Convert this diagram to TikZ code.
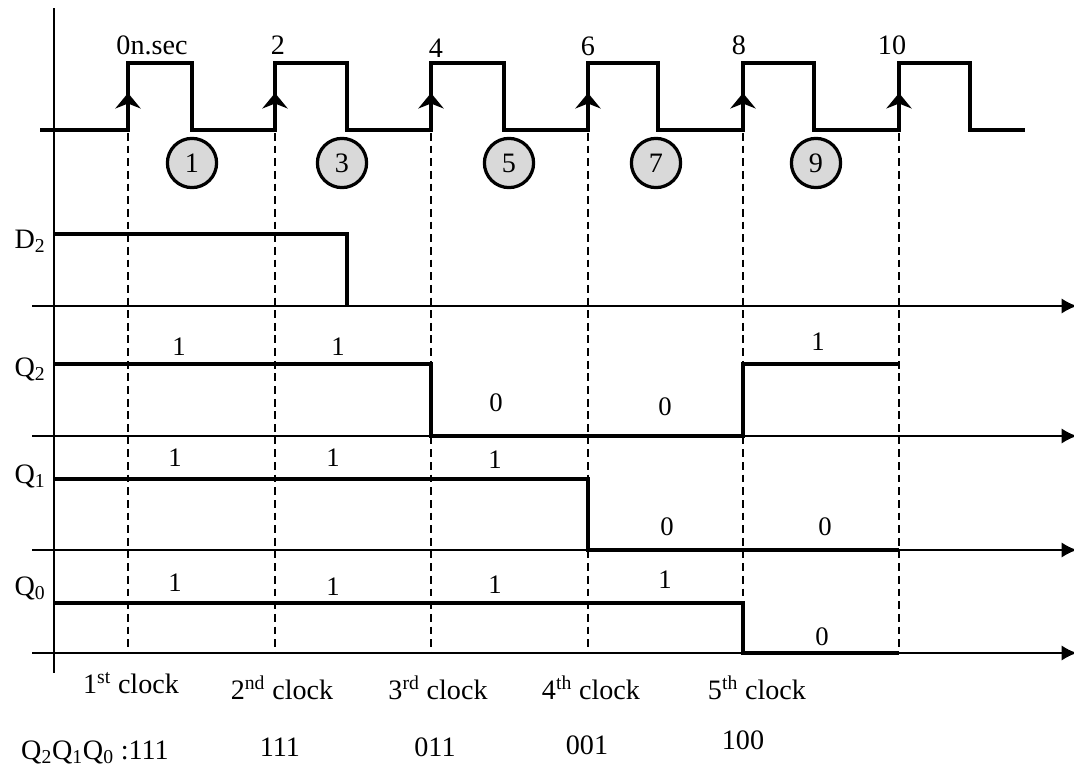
\documentclass[tikz,border=0pt]{standalone}
\usepackage{fontspec}
\setmainfont{Liberation Serif}
\usetikzlibrary{arrows.meta}
\definecolor{stepgray}{RGB}{217,217,217}

\begin{document}
\begin{tikzpicture}[
    x=0.025cm, y=-0.025cm,
    signal/.style={
        line width=2.6pt,
        line join=miter
    },
    axis/.style={
        line width=1.6pt,
        -{Latex[length=11pt,width=11pt]}
    },
    guide/.style={
        line width=1.2pt,
        dash pattern=on 5.5pt off 3.5pt
    },
    edgearr/.style={
        line width=2.6pt,
        -{Stealth[length=11pt,width=18pt,inset=3.5pt]}
    },
    stepno/.style={
        circle,
        draw,
        line width=2.3pt,
        fill=stepgray,
        minimum size=35pt,
        inner sep=0pt,
        font=\fontsize{20}{24}\selectfont
    },
    tag/.style={font=\fontsize{20}{24}\selectfont},
    val/.style={font=\fontsize{19}{22}\selectfont}
]
\useasboundingbox (0,0) rectangle (1074,769);

% clock
\draw[signal] (40,130) -- (128,130) |- (192,63) |- (275,130) |- (347,63)
    |- (431,130) |- (504,63) |- (588,130) |- (658,63) |- (743,130)
    |- (814,63) |- (899,130) |- (970,63) |- (1025,130);
\foreach \x in {128,275,431,588,743,899}
    \draw[edgearr] (\x,125) -- (\x,93);

\node[tag] (t0) at (152,45) {0n.sec};
\node[tag] (t2) at (278,45) {2};
\node[tag] (t4) at (436,48) {4};
\node[tag] (t6) at (588,46) {6};
\node[tag] (t8) at (739,45) {8};
\node[tag] (t10) at (892,45) {10};

\foreach \x/\n in {192/1,342/3,509/5,656/7,816/9}
    \node[stepno] (s\n) at (\x,163) {\n};

% guides
\foreach \x in {128,275,431,588,743,899}
    \draw[guide] (\x,133) -- (\x,653);

% axes
\draw[line width=1.6pt] (54,8) -- (54,673);
\foreach \y in {306,436,550,653}
    \draw[axis] (32,\y) -- (1077,\y);

% waveforms
\draw[signal] (54,234) -| (347,306);
\draw[signal] (54,364) -| (431,436) -| (743,364) -- (899,364);
\draw[signal] (54,479) -| (588,550) -- (899,550);
\draw[signal] (54,603) -| (743,653) -- (899,653);

\node[tag] (d2) at (30,241) {D\textsubscript{2}};
\node[tag] (q2) at (30,369) {Q\textsubscript{2}};
\node[tag] (q1) at (30,476) {Q\textsubscript{1}};
\node[tag] (q0) at (30,588) {Q\textsubscript{0}};

\node[val] (q2a) at (179,347) {1};
\node[val] (q2b) at (338,347) {1};
\node[val] (q2c) at (496,403) {0};
\node[val] (q2d) at (665,407) {0};
\node[val] (q2e) at (818,342) {1};

\node[val] (q1a) at (175,458) {1};
\node[val] (q1b) at (333,458) {1};
\node[val] (q1c) at (495,460) {1};
\node[val] (q1d) at (667,527) {0};
\node[val] (q1e) at (825,527) {0};

\node[val] (q0a) at (175,583) {1};
\node[val] (q0b) at (333,587) {1};
\node[val] (q0c) at (495,585) {1};
\node[val] (q0d) at (665,580) {1};
\node[val] (q0e) at (822,637) {0};

% clock count and state
\node[tag] (c1) at (131,683) {1\textsuperscript{st} clock};
\node[tag] (c2) at (282,688) {2\textsuperscript{nd} clock};
\node[tag] (c3) at (438,688) {3\textsuperscript{rd} clock};
\node[tag] (c4) at (591,688) {4\textsuperscript{th} clock};
\node[tag] (c5) at (757,688) {5\textsuperscript{th} clock};

\node[tag] (st1) at (95,752) {Q\textsubscript{2}Q\textsubscript{1}Q\textsubscript{0} :111};
\node[tag] (st2) at (280,747) {111};
\node[tag] (st3) at (435,747) {011};
\node[tag] (st4) at (587,745) {001};
\node[tag] (st5) at (743,740) {100};

\end{tikzpicture}
\end{document}
